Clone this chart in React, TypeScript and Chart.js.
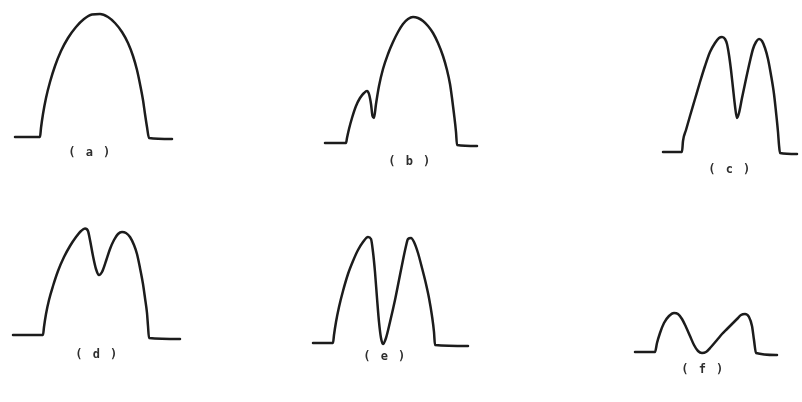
import React, { useEffect, useRef } from "react";
import { Chart, registerables } from "chart.js";

Chart.register(...registerables);

// Six pulse shapes, each as [x, y] points on a shared 802 x 402 drawing plane
// (y grows downward).
const waveA: [number, number][] = [
  [15, 137], [40, 137], [41, 128], [43, 114], [46, 98], [50, 82], [55, 66],
  [61, 51], [68, 38], [76, 27], [84, 19], [92, 14.5], [100, 14], [108, 17],
  [115, 23], [122, 32], [128, 43], [133, 56], [137, 70], [140, 84],
  [143, 100], [145, 114], [147, 127], [149, 138], [172, 139],
];

const waveB: [number, number][] = [
  [325, 143], [346, 143], [347, 138], [349, 129], [352, 118], [356, 106],
  [360, 98], [364, 93], [367, 91], [369, 94], [371, 104], [372.5, 116],
  [374, 118], [376, 104], [379, 86], [383, 69], [388, 54], [393, 42],
  [398, 32], [403, 24], [408, 19], [413, 17], [418, 18], [423, 21],
  [428, 26], [433, 33], [438, 43], [443, 56], [447, 70], [450, 84],
  [452, 98], [454, 114], [456, 132], [457, 145], [477, 146],
];

const waveC: [number, number][] = [
  [663, 152], [682, 152], [683, 141], [686, 130], [690, 116], [695, 99],
  [700, 82], [705, 66], [710, 52], [715, 43], [719, 38], [722, 37],
  [725, 39], [727, 44], [729, 55], [731, 70], [733, 88], [735, 106],
  [737, 118], [739, 113], [742, 98], [746, 79], [750, 61], [753, 49],
  [756, 42], [759, 39], [762, 41], [765, 48], [768, 59], [771, 75],
  [774, 94], [776, 112], [778, 132], [779, 145], [780, 153], [797, 154],
];

const waveD: [number, number][] = [
  [13, 335], [43, 335], [44, 327], [46, 314], [49, 300], [53, 286],
  [58, 271], [64, 257], [70, 246], [76, 237], [81, 231], [85, 228.5],
  [88, 231], [90, 240], [93, 256], [96, 269], [99, 275], [102, 272],
  [106, 261], [110, 249], [114, 240], [118, 234], [122, 232], [126, 233],
  [130, 237], [134, 245], [137, 254], [140, 268], [143, 284], [145, 298],
  [147, 313], [148, 326], [149, 338], [180, 339],
];

const waveE: [number, number][] = [
  [313, 343], [333, 343], [334, 335], [336, 322], [339, 307], [343, 291],
  [348, 274], [353, 261], [358, 250], [363, 242], [368, 237], [371, 239],
  [373, 252], [375, 272], [377, 298], [379, 322], [381, 338], [383, 344],
  [386, 338], [390, 322], [395, 300], [399, 280], [403, 260], [406, 246],
  [408, 239], [411, 238], [414, 242], [418, 253], [422, 268], [426, 284],
  [429, 298], [432, 316], [434, 332], [435, 345], [468, 346],
];

const waveF: [number, number][] = [
  [635, 352], [655, 352], [657, 343], [660, 333], [664, 323], [669, 316],
  [674, 313], [678, 314], [682, 319], [686, 327], [690, 336], [694, 345],
  [698, 351], [702, 353], [706, 352], [711, 347], [717, 340], [722, 334],
  [727, 329], [732, 324], [737, 319], [741, 315], [745, 314], [749, 317],
  [752, 326], [754, 340], [756, 353], [777, 355],
];

const waves = [waveA, waveB, waveC, waveD, waveE, waveF];

// Caption under each pulse and where it sits on the plane.
const panelLabels = ["( a )", "( b )", "( c )", "( d )", "( e )", "( f )"];
const labelX = [90, 410, 730, 97, 385, 703];
const labelY = [153, 162, 170, 355, 357, 370];

const INK = "#1c1c1c";

const captionPlugin = {
  id: "pulseCaptions",
  afterDatasetsDraw(chart: Chart) {
    const { ctx } = chart;
    const xs = chart.scales.x;
    const ys = chart.scales.y;
    ctx.save();
    ctx.fillStyle = "#2e2e2e";
    ctx.font = "bold 12px 'DejaVu Sans Mono', 'Liberation Mono', monospace";
    (ctx as any).letterSpacing = "1.5px";
    ctx.textAlign = "center";
    ctx.textBaseline = "middle";
    panelLabels.forEach((label, i) => {
      ctx.fillText(label, xs.getPixelForValue(labelX[i]), ys.getPixelForValue(labelY[i]));
    });
    ctx.restore();
  },
};

export default function App() {
  const canvasRef = useRef<HTMLCanvasElement | null>(null);

  useEffect(() => {
    const canvas = canvasRef.current;
    if (!canvas) return;
    const chart = new Chart(canvas, {
      type: "line",
      data: {
        datasets: waves.map((w, i) => ({
          label: panelLabels[i],
          data: w.map(([x, y]) => ({ x, y })),
          borderColor: INK,
          borderWidth: 2.5,
          pointRadius: 0,
          fill: false,
          cubicInterpolationMode: "monotone" as const,
          borderCapStyle: "round" as const,
          borderJoinStyle: "round" as const,
        })),
      },
      options: {
        responsive: false,
        animation: false,
        layout: { padding: 0 },
        plugins: {
          legend: { display: false },
          tooltip: { enabled: false },
        },
        scales: {
          x: { type: "linear", min: 0, max: 802, display: false },
          y: { type: "linear", min: 0, max: 402, reverse: true, display: false },
        },
      },
      plugins: [captionPlugin],
    });
    return () => chart.destroy();
  }, []);

  return (
    <div style={{ position: "fixed", left: 0, top: 0, width: 802, height: 402, background: "#fff" }}>
      <canvas ref={canvasRef} width={802} height={402} />
    </div>
  );
}
